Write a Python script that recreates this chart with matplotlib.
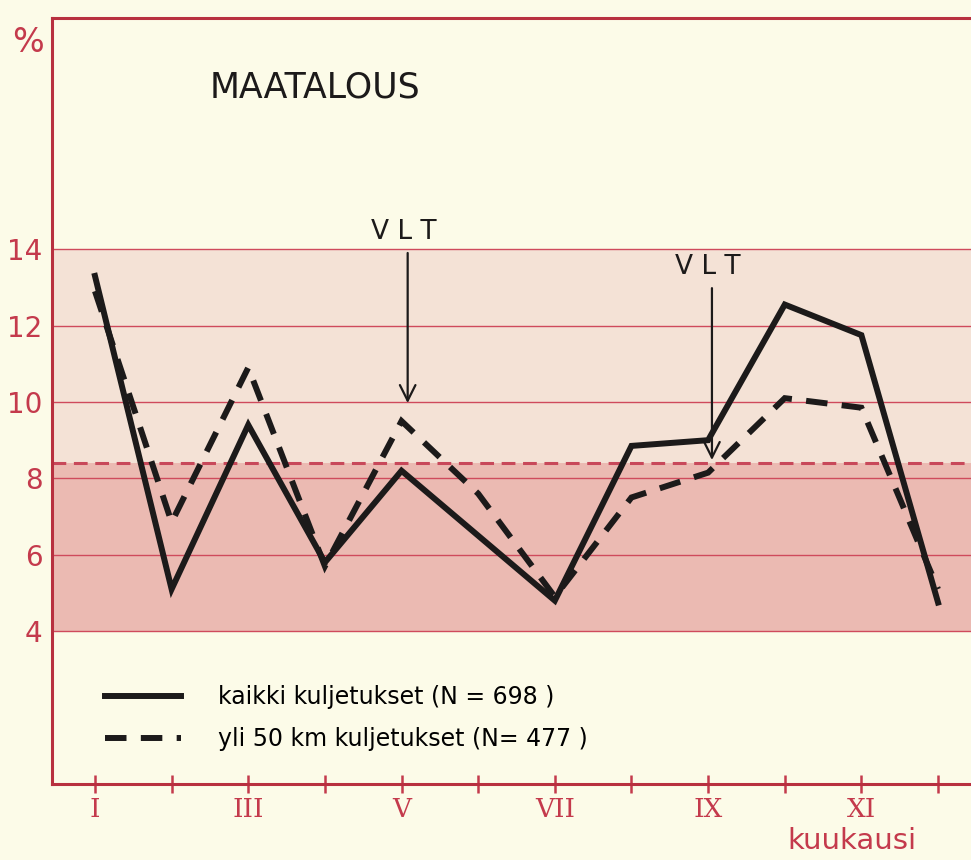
import matplotlib.pyplot as plt

# --- DATA ---
months = list(range(1, 13))
roman_labels = ['I', '', 'III', '', 'V', '', 'VII', '', 'IX', '', 'XI', '']
kaikki = [13.3, 5.1, 9.4, 5.8, 8.2, 6.5, 4.8, 8.85, 9.0, 12.55, 11.75, 4.75]
yli50 = [12.9, 6.85, 10.9, 5.7, 9.5, 7.6, 4.9, 7.5, 8.15, 10.1, 9.85, 5.1]
mean_level = 8.4
band_low, band_high = 4, 14
y_ticks = [4, 6, 8, 10, 12, 14]
vlt_months = [5.08, 9.05]
vlt_tips = [9.97, 8.48]
vlt_starts = [13.9, 12.98]

RED = '#c43a4c'
BG = '#fcfbe8'

fig = plt.figure(figsize=(9.71, 8.6), dpi=100, facecolor=BG)
ax = fig.add_axes([0.0536, 0.0884, 0.9464, 0.8906])
ax.set_facecolor(BG)
ax.set_xlim(0.44, 12.43)
ax.set_ylim(0, 20.05)

# shaded bands
ax.axhspan(mean_level, band_high, color='#f4e2d6', zorder=0, lw=0)
ax.axhspan(band_low, mean_level, color='#ebbab2', zorder=0, lw=0)

# grid lines
for yv in y_ticks:
    ax.axhline(yv, color='#cf4a5c', lw=1.0, zorder=1)
ax.axhline(mean_level, color='#c8485a', lw=2.2, ls=(0, (4.5, 2.5)), zorder=1)

# data lines
ax.plot(months, kaikki, color='#1c1a1a', lw=4.3, solid_joinstyle='miter',
        label='kaikki kuljetukset (N = 698 )', zorder=3)
ax.plot(months, yli50, color='#1c1a1a', lw=4.3, ls=(0, (3.6, 2.4)),
        dash_joinstyle='miter', label='yli 50 km kuljetukset (N= 477 )', zorder=3)

# VLT arrows
for xm, tip, start in zip(vlt_months, vlt_tips, vlt_starts):
    ax.annotate('', xy=(xm, tip), xytext=(xm, start),
                arrowprops=dict(arrowstyle='->', color='#1c1a1a', lw=1.6,
                                mutation_scale=28, shrinkA=0, shrinkB=0), zorder=4)
    ax.text(xm - 0.05, start + 0.2, 'V L T', ha='center', va='bottom',
            fontsize=19, color='#1c1a1a')

# axes styling
ax.spines['right'].set_visible(False)
for side in ['left', 'bottom', 'top']:
    ax.spines[side].set_color('#b8303f')
    ax.spines[side].set_linewidth(2.2)

ax.set_xticks(months)
ax.set_xticklabels(roman_labels, fontfamily='DejaVu Serif', fontsize=19, color=RED)
ax.tick_params(axis='x', direction='inout', length=13, width=1.8, color='#c43a4c', pad=3)
ax.set_yticks(y_ticks)
ax.set_yticklabels([str(v) for v in y_ticks], fontsize=20, color=RED)
ax.tick_params(axis='y', length=0, pad=7)

fig.text(28 / 971, 1 - 42 / 860, '%', ha='center', va='center',
         fontsize=24, color=RED)
ax.text(0.172, 0.909, 'MAATALOUS', transform=ax.transAxes, ha='left', va='center',
        fontsize=25, color='#1c1a1a')
fig.text(852 / 971, 1 - 841 / 860, 'kuukausi', ha='center', va='center',
         fontsize=21, color=RED)

ax.legend(loc='center left', bbox_to_anchor=(105 / 971, 1 - 718 / 860),
          bbox_transform=fig.transFigure, frameon=False, fontsize=17,
          handlelength=3.2, handletextpad=1.6, labelspacing=0.75,
          borderpad=0, borderaxespad=0)

fig.savefig('out.png', dpi=100, facecolor=BG)
